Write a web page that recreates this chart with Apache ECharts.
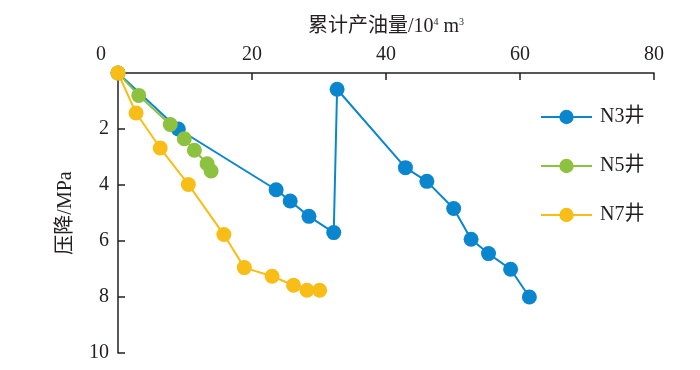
<!DOCTYPE html>
<html><head><meta charset="utf-8">
<script src="https://cdn.jsdelivr.net/npm/echarts@6/dist/echarts.min.js"></script>
<style>html,body{margin:0;padding:0;background:#fff}#c{width:700px;height:370px}</style>
</head><body><div id="c"></div>
<script>
var seriesNames = ['N3井', 'N5井', 'N7井'];
var n3X = [0, 9.0, 23.6, 25.7, 28.5, 32.2, 32.7, 42.9, 46.1, 50.1, 52.7, 55.3, 58.6, 61.4];
var n3Y = [0, 2.0, 4.17, 4.57, 5.12, 5.70, 0.58, 3.38, 3.87, 4.84, 5.94, 6.45, 7.01, 8.0];
var n5X = [0, 3.1, 7.8, 9.9, 11.4, 13.3, 13.9];
var n5Y = [0, 0.80, 1.84, 2.35, 2.76, 3.24, 3.50];
var n7X = [0, 2.7, 6.3, 10.5, 15.8, 18.85, 23.0, 26.2, 28.2, 30.1];
var n7Y = [0, 1.43, 2.68, 3.98, 5.77, 6.95, 7.26, 7.58, 7.76, 7.76];
var xTicks = [0, 20, 40, 60, 80];
var yTicks = [0, 2, 4, 6, 8, 10];
var colors = ['#0a86cf', '#8cc23f', '#f8bd16'];

function pairs(xs, ys) { return xs.map(function (x, i) { return [x, ys[i]]; }); }
var font = '"Liberation Serif", "Noto Sans CJK SC", serif';
var axisColor = '#231f20';
var chart = echarts.init(document.getElementById('c'));
var allData = [pairs(n3X, n3Y), pairs(n5X, n5Y), pairs(n7X, n7Y)];
chart.setOption({
  animation: false,
  textStyle: { fontFamily: font },
  grid: { left: 118, top: 73, right: 46, bottom: 17, containLabel: false },
  legend: {
    orient: 'vertical', left: 540, top: 107, padding: 0,
    itemWidth: 51, itemHeight: 18, itemGap: 29,
    data: seriesNames,
    textStyle: { fontFamily: font, fontSize: 20, color: axisColor, padding: [0, 0, 0, 3] }
  },
  xAxis: {
    type: 'value', position: 'top',
    min: xTicks[0], max: xTicks[xTicks.length - 1], interval: 20,
    name: '累计产油量/10{sup|4} m{sup|3}', nameLocation: 'middle', nameGap: 36,
    nameTextStyle: { fontFamily: font, fontSize: 20, color: axisColor,
      rich: { sup: { fontSize: 10, verticalAlign: 'top', padding: [0, 0, 10, 0], fontFamily: font, color: axisColor } } },
    axisLine: { show: true, lineStyle: { color: axisColor, width: 1.5 } },
    axisTick: { show: true, inside: true, length: 7, lineStyle: { color: axisColor, width: 1.5 } },
    axisLabel: { fontFamily: font, fontSize: 20, color: axisColor, margin: 8,
      formatter: function (v) { return v === 0 ? '{z|0}' : String(v); },
      rich: { z: { fontFamily: font, fontSize: 20, color: axisColor, padding: [0, 34, 0, 0] } } },
    splitLine: { show: false }
  },
  yAxis: {
    type: 'value', inverse: true,
    min: yTicks[0], max: yTicks[yTicks.length - 1], interval: 2,
    name: '压降/MPa', nameLocation: 'middle', nameGap: 42, nameRotate: 90,
    nameTextStyle: { fontFamily: font, fontSize: 20, color: axisColor },
    axisLine: { show: true, lineStyle: { color: axisColor, width: 1.5 } },
    axisTick: { show: true, inside: true, length: 7, lineStyle: { color: axisColor, width: 1.5 } },
    axisLabel: { fontFamily: font, fontSize: 20, color: axisColor, margin: 9,
      formatter: function (v) { return v === 0 ? '' : String(v); } },
    splitLine: { show: false }
  },
  series: seriesNames.map(function (n, i) {
    return {
      name: n, type: 'line', data: allData[i],
      symbol: 'circle', symbolSize: 15,
      lineStyle: { color: colors[i], width: 2 },
      itemStyle: { color: colors[i] },
      color: colors[i]
    };
  })
});
</script></body></html>
